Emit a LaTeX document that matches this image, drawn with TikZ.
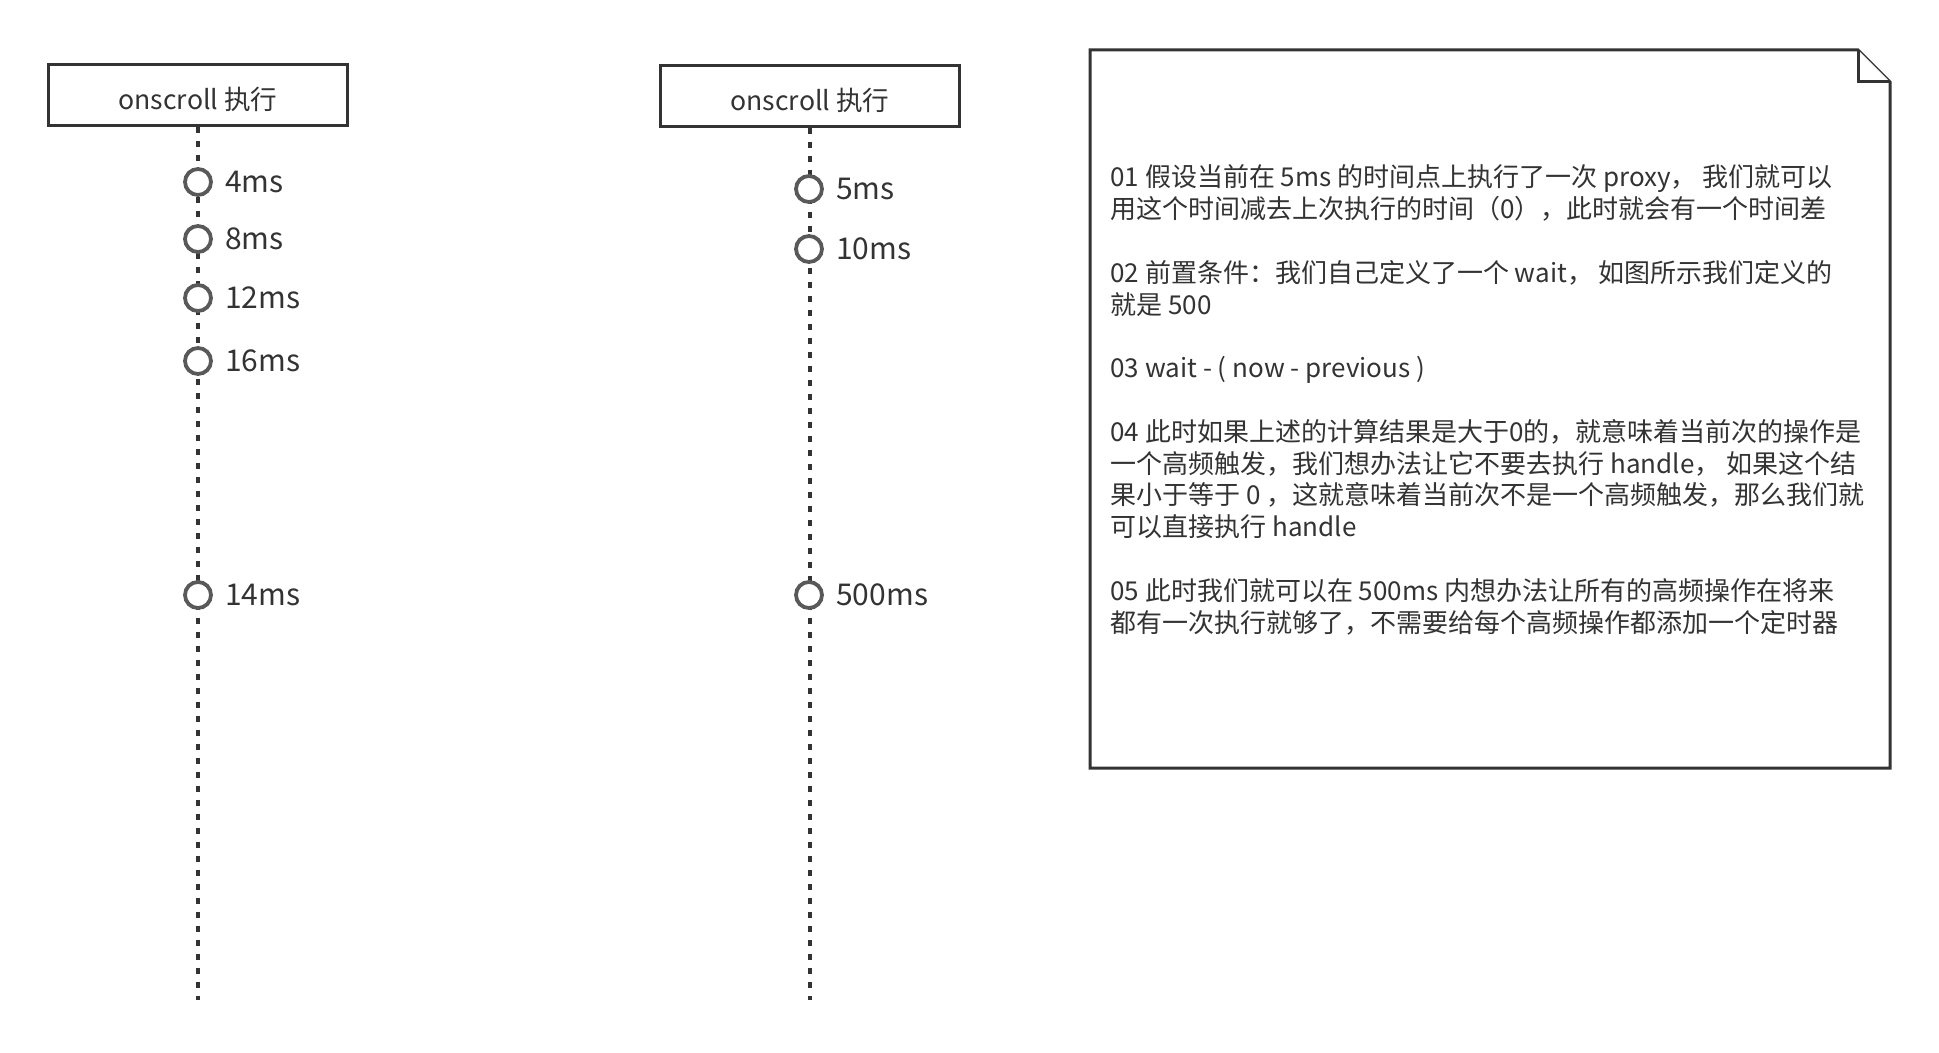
\documentclass[tikz,border=0pt]{standalone}
\usepackage{fontspec}
\setmainfont{Noto Sans CJK SC}
\usepackage{tikz}
\usetikzlibrary{positioning}

\definecolor{inkgray}{HTML}{333333}
\definecolor{ringgray}{HTML}{595959}

\begin{document}
\begin{tikzpicture}[
  x=0.5pt, y=-0.5pt,
  header/.style={rectangle, draw=inkgray, line width=1.5pt, fill=white, minimum width=149.5pt, minimum height=30.5pt, inner sep=0pt, font=\fontsize{13.3}{15}\selectfont, text=inkgray},
  tick/.style={circle, draw=ringgray, line width=1.9pt, fill=white, minimum size=13pt, inner sep=0pt},
  ticklabel/.style={font=\fontsize{15}{18}\selectfont, text=inkgray, inner sep=0pt, right=6pt of #1},
  lifeline/.style={draw=inkgray, line width=2pt, dash pattern=on 3pt off 4pt},
  notebox/.style={draw=inkgray, line width=1.5pt, fill=white, line join=miter},
  notetext/.style={font=\fontsize{13}{15.9}\selectfont, text=inkgray, align=left, inner sep=0pt, anchor=west}
]
\useasboundingbox (0,0) rectangle (1939,1053);

% left timeline
\node[header] (scrollA) at (198, 95.5) {\raisebox{-2pt}[\height][\depth]{onscroll 执行}};
\coordinate (endA) at (198, 1000);
\draw[lifeline] (scrollA.south) -- (endA);
\node[tick] (a4) at (198, 182) {};
\node[ticklabel=a4] {4ms};
\node[tick] (a8) at (198, 239) {};
\node[ticklabel=a8] {8ms};
\node[tick] (a12) at (198, 298) {};
\node[ticklabel=a12] {12ms};
\node[tick] (a16) at (198, 361) {};
\node[ticklabel=a16] {16ms};
\node[tick] (a14) at (198, 595) {};
\node[ticklabel=a14] {14ms};

% right timeline
\node[header] (scrollB) at (810, 96) {\raisebox{-2pt}[\height][\depth]{onscroll 执行}};
\coordinate (endB) at (810, 1000);
\draw[lifeline] (scrollB.south) -- (endB);
\node[tick] (b5) at (809, 189) {};
\node[ticklabel=b5] {5ms};
\node[tick] (b10) at (809, 249) {};
\node[ticklabel=b10] {10ms};
\node[tick] (b500) at (809, 595) {};
\node[ticklabel=b500] {500ms};

% note
\draw[notebox] (1090,50) -- (1858,50) -- (1890,82) -- (1890,768) -- (1090,768) -- cycle;
\draw[notebox] (1858,50) -- (1858,82) -- (1890,82);
\node[notetext] (steps) at (1110, 400) {01 假设当前在 5ms 的时间点上执行了一次 proxy， 我们就可以\\
用这个时间减去上次执行的时间（0），此时就会有一个时间差\\[15.9pt]
02 前置条件：我们自己定义了一个 wait， 如图所示我们定义的\\
就是 500\\[15.9pt]
03 wait - ( now - previous )\\[15.9pt]
04 此时如果上述的计算结果是大于0的，就意味着当前次的操作是\\
一个高频触发，我们想办法让它不要去执行 handle， 如果这个结\\
果小于等于 0 ，这就意味着当前次不是一个高频触发，那么我们就\\
可以直接执行 handle\\[15.9pt]
05 此时我们就可以在 500ms 内想办法让所有的高频操作在将来\\
都有一次执行就够了，不需要给每个高频操作都添加一个定时器};
\end{tikzpicture}
\end{document}
